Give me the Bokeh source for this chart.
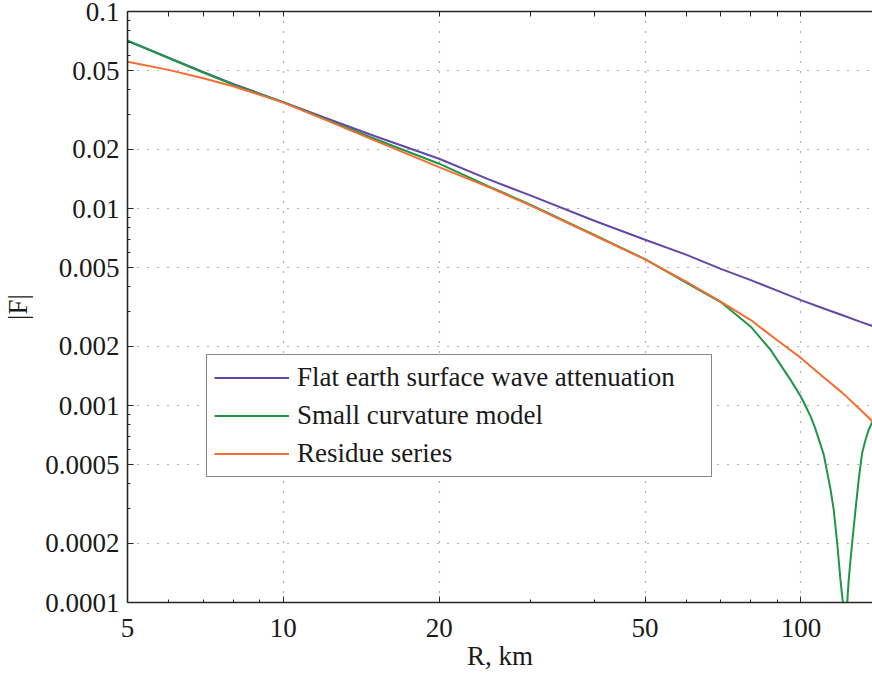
from bokeh.plotting import figure
from bokeh.models import (LogAxis, FixedTicker, CustomJSTickFormatter, Legend,
                          LegendItem, Range1d)
from bokeh.embed import file_html
from bokeh.resources import INLINE

# ---- data ----
r_km = [5, 6, 7, 8, 10, 12, 15, 20, 25, 30, 40, 50, 60, 70, 80, 90, 100, 110, 120, 130, 137.5]
flat_earth = [0.07105, 0.05829, 0.04933, 0.04290, 0.03469, 0.02895, 0.02334, 0.01789,
              0.01401, 0.01166, 0.008643, 0.006943, 0.005829, 0.004939, 0.004330,
              0.003827, 0.003428, 0.003124, 0.002879, 0.002665, 0.002532]
residue = [0.05563, 0.05055, 0.04585, 0.04177, 0.03448, 0.02832, 0.02219, 0.01623,
           0.01280, 0.01038, 0.007274, 0.005512, 0.004260, 0.003369, 0.002715,
           0.002144, 0.001744, 0.001409, 0.001166, 0.000957, 0.000830]

r_km_curv = [5, 6, 7, 8, 10, 12, 15, 20, 25, 30, 40, 50, 60, 70, 75, 80, 87.4, 90, 95.5,
             100, 102, 104.4, 106.5, 110.7, 114.1, 115.7, 117.5, 119.2, 120.5, 121.6,
             122.9, 123.7, 125.6, 127.5, 129.3, 131.3, 133.3, 135.2, 137.5]
small_curv = [0.07105, 0.05808, 0.04904, 0.04255, 0.03456, 0.02855, 0.02261, 0.01688,
              0.01292, 0.01046, 0.007316, 0.005531, 0.004205, 0.003349, 0.002889,
              0.002512, 0.001914, 0.001704, 0.001349, 0.001107, 0.001000, 0.000880,
              0.000770, 0.000563, 0.000374, 0.000296, 0.000201, 0.000131, 0.0001006,
              0.00003, 0.0001006, 0.000131, 0.000201, 0.000296, 0.000420, 0.000574,
              0.000670, 0.000753, 0.000830]

x_ticks = [5, 10, 20, 50, 100]
x_minor = [6, 7, 8, 9, 30, 40, 60, 70, 80, 90]
y_ticks = [0.0001, 0.0002, 0.0005, 0.001, 0.002, 0.005, 0.01, 0.02, 0.05, 0.1]
y_minor = [0.0003, 0.0004, 0.0006, 0.0007, 0.0008, 0.0009,
           0.003, 0.004, 0.006, 0.007, 0.008, 0.009,
           0.03, 0.04, 0.06, 0.07, 0.08, 0.09]

names = ["Flat earth surface wave attenuation", "Small curvature model", "Residue series"]
colors = ["#6446A8", "#1E9646", "#F46E32"]

FONT = "Liberation Serif"
FS = "27px"
TXT = "#1a1a1a"
AX = "#262626"

p = figure(width=872, height=673, x_axis_type="log", y_axis_type="log",
           x_range=Range1d(5, 137.5), y_range=Range1d(0.0001, 0.1),
           output_backend="svg", toolbar_location=None,
           min_border_left=125, min_border_right=0, min_border_top=11,
           min_border_bottom=70)
p.outline_line_color = None
p.background_fill_color = "white"
p.border_fill_color = "white"

fmt = CustomJSTickFormatter(code="return tick.toString();")

for ax, ticks, minor in ((p.xaxis[0], x_ticks, x_minor), (p.yaxis[0], y_ticks, y_minor)):
    ax.ticker = FixedTicker(ticks=ticks, minor_ticks=minor)
    ax.formatter = fmt
    ax.major_label_text_font = FONT
    ax.major_label_text_font_size = FS
    ax.major_label_text_color = TXT
    ax.axis_label_text_font = FONT
    ax.axis_label_text_font_size = FS
    ax.axis_label_text_font_style = "normal"
    ax.axis_label_text_color = TXT
    ax.axis_line_color = AX
    ax.axis_line_width = 1.6
    ax.major_tick_in = 6
    ax.major_tick_out = 0
    ax.minor_tick_in = 3
    ax.minor_tick_out = 0
    ax.major_tick_line_color = AX
    ax.minor_tick_line_color = AX

p.xaxis.axis_label = "R, km"
p.xaxis.major_label_standoff = 16
p.xaxis.axis_label_standoff = 1
p.yaxis.axis_label = "|F|"
p.yaxis.major_label_standoff = 8
p.yaxis.axis_label_standoff = 9

# top frame line with tick marks only (no labels)
top = LogAxis(ticker=FixedTicker(ticks=[], minor_ticks=x_ticks + x_minor),
              axis_line_color=AX, axis_line_width=1.6,
              major_tick_in=0, major_tick_out=0, minor_tick_in=5, minor_tick_out=0,
              minor_tick_line_color=AX)
p.add_layout(top, "above")

for g in (p.xgrid[0], p.ygrid[0]):
    g.grid_line_color = "#333333"
    g.grid_line_alpha = 0.8
    g.grid_line_width = 1.2
    g.grid_line_dash = "1 9"

r1 = p.line(r_km, flat_earth, line_color=colors[0], line_width=2)
r2 = p.line(r_km_curv, small_curv, line_color=colors[1], line_width=2)
r3 = p.line(r_km, residue, line_color=colors[2], line_width=2)

legend = Legend(items=[LegendItem(label=names[0], renderers=[r1]),
                       LegendItem(label=names[1], renderers=[r2]),
                       LegendItem(label=names[2], renderers=[r3])],
                location=(79, 125), margin=0, padding=7, spacing=7,
                glyph_width=75, glyph_height=31, label_height=31,
                label_standoff=8, label_width=407,
                label_text_font=FONT, label_text_font_size=FS,
                label_text_color=TXT,
                border_line_color="#111111", border_line_width=1.5,
                background_fill_color="white", background_fill_alpha=1.0)
p.add_layout(legend)

open("out.html", "w").write(file_html(p, INLINE))
